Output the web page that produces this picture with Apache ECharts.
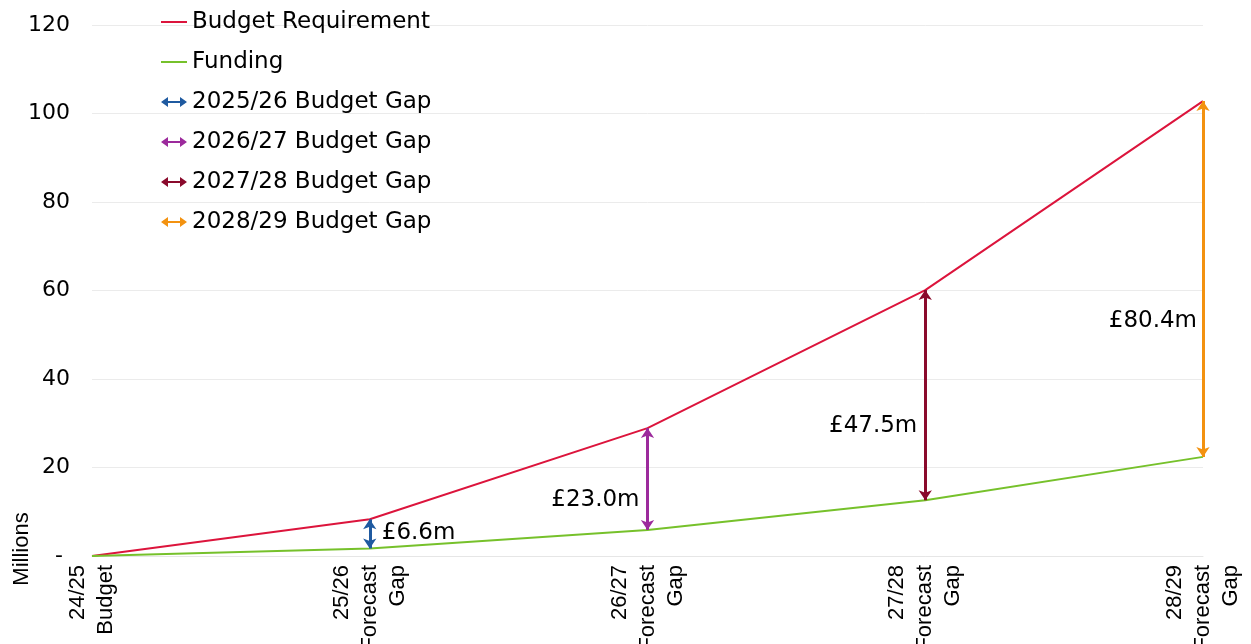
<!DOCTYPE html>
<html>
<head>
<meta charset="utf-8">
<script src="https://cdn.jsdelivr.net/npm/echarts@6/dist/echarts.min.js"></script>
<style>
html,body{margin:0;padding:0;background:#fff;}
#chart{width:1251px;height:644px;}
</style>
</head>
<body>
<div id="chart"></div>
<script>
// ---- data ----
const categories = ['24/25\nBudget', '25/26\nForecast\nGap', '26/27\nForecast\nGap', '27/28\nForecast\nGap', '28/29\nForecast\nGap'];
const budgetRequirement = [0, 8.3, 28.9, 60.1, 102.8];
const funding = [0, 1.7, 5.9, 12.6, 22.4];
const gapNames = ['2025/26 Budget Gap', '2026/27 Budget Gap', '2027/28 Budget Gap', '2028/29 Budget Gap'];
const gapCategoryIndex = [1, 2, 3, 4];
const gapLabels = ['£6.6m', '£23.0m', '£47.5m', '£80.4m'];
const yTicks = [0, 20, 40, 60, 80, 100, 120];

// ---- styles ----
const gapColors = ['#1F5AA0', '#9C2A9C', '#8A0A2C', '#F39210'];
const gapLabelSide = ['right', 'left', 'left', 'left'];
const gapLabelDy = [-1, 21, 31, 42];
const gapLabelDist = [12, 8, 8, 6];
const HFONT = 'DejaVu Sans';
const VFONT = 'Liberation Sans';
const arrowIcon = 'path://M0,5L7,0L7,4L19,4L19,0L26,5L19,10L19,6L7,6L7,10Z';
const lineIcon = 'path://M0,4L26,4L26,6L0,6Z';

const chart = echarts.init(document.getElementById('chart'));

const gapSeries = gapNames.map((name, i) => {
  const ci = gapCategoryIndex[i];
  const cat = categories[ci];
  const lo = funding[ci], hi = budgetRequirement[ci];
  return {
    name: name,
    type: 'line',
    data: [],
    color: gapColors[i],
    markLine: {
      silent: true,
      symbol: ['arrow', 'arrow'],
      symbolSize: [10, 10],
      lineStyle: { color: gapColors[i], width: 3, type: 'solid' },
      label: { show: false },
      data: [[{ coord: [cat, lo] }, { coord: [cat, hi] }]]
    },
    markPoint: {
      silent: true,
      symbol: 'circle',
      symbolSize: 0,
      data: [{ coord: [cat, (lo + hi) / 2] }],
      label: {
        show: true,
        formatter: gapLabels[i],
        position: gapLabelSide[i],
        distance: gapLabelDist[i],
        offset: [0, gapLabelDy[i]],
        color: '#000',
        fontFamily: HFONT,
        fontSize: 23
      }
    }
  };
});

chart.setOption({
  animation: false,
  backgroundColor: '#fff',
  grid: { left: 92, right: 48, top: 25, bottom: 88, containLabel: false, outerBoundsMode: 'none' },
  legend: {
    orient: 'vertical',
    left: 161,
    top: 9,
    padding: 0,
    itemWidth: 26,
    itemHeight: 10,
    itemGap: 14,
    textStyle: { fontFamily: HFONT, fontSize: 23, color: '#000', lineHeight: 26 },
    data: [
      { name: 'Budget Requirement', icon: lineIcon },
      { name: 'Funding', icon: lineIcon },
      ...gapNames.map(n => ({ name: n, icon: arrowIcon }))
    ]
  },
  xAxis: {
    type: 'category',
    data: categories,
    boundaryGap: false,
    axisLine: { show: true, lineStyle: { color: '#e6e6e6', width: 1 } },
    axisTick: { show: false },
    axisLabel: {
      rotate: 90,
      interval: 0,
      margin: 9,
      fontFamily: VFONT,
      fontSize: 22,
      lineHeight: 28,
      color: '#000'
    },
    splitLine: { show: false }
  },
  yAxis: {
    type: 'value',
    min: yTicks[0],
    max: yTicks[yTicks.length - 1],
    interval: yTicks[1] - yTicks[0],
    axisLine: { show: false },
    axisTick: { show: false },
    axisLabel: {
      margin: 22,
      fontFamily: HFONT,
      fontSize: 22,
      color: '#000',
      padding: [4, 0, 0, 0],
      formatter: v => (v === 0 ? '- ' : String(v))
    },
    splitLine: { show: true, lineStyle: { color: '#ebebeb', width: 1 } }
  },
  graphic: [{
    type: 'text',
    x: 22,
    y: 549,
    rotation: Math.PI / 2,
    style: {
      text: 'Millions',
      fontFamily: VFONT,
      fontSize: 22,
      fill: '#000',
      align: 'center',
      verticalAlign: 'middle'
    }
  }],
  series: [
    {
      name: 'Budget Requirement',
      type: 'line',
      data: budgetRequirement,
      symbol: 'none',
      color: '#DC143C',
      lineStyle: { color: '#DC143C', width: 2 },
      z: 3
    },
    {
      name: 'Funding',
      type: 'line',
      data: funding,
      symbol: 'none',
      color: '#76C12B',
      lineStyle: { color: '#76C12B', width: 2 },
      z: 3
    },
    ...gapSeries
  ]
});
</script>
</body>
</html>
